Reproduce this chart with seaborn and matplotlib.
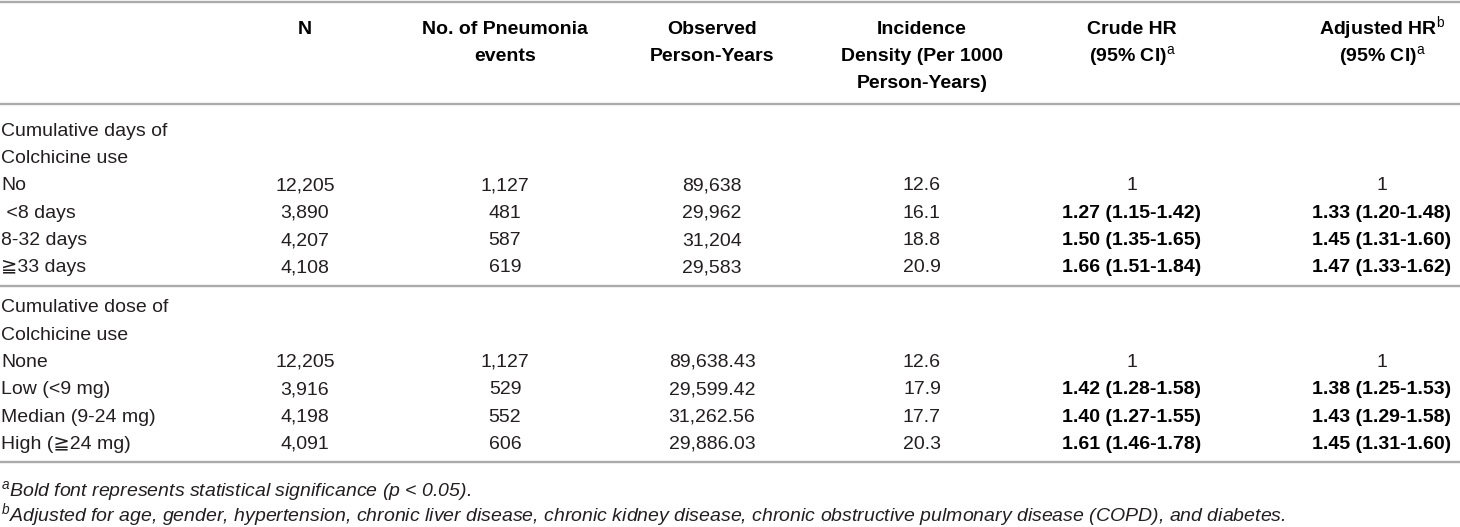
import pandas as pd
import matplotlib.pyplot as plt
import seaborn as sns

# Table values
days_labels = ["No", " <8 days", "8-32 days", "\u226733 days"]
days_n = ["12,205", "3,890", "4,207", "4,108"]
days_events = ["1,127", "481", "587", "619"]
days_py = ["89,638", "29,962", "31,204", "29,583"]
days_inc = ["12.6", "16.1", "18.8", "20.9"]
days_crude = ["1", "1.27 (1.15-1.42)", "1.50 (1.35-1.65)", "1.66 (1.51-1.84)"]
days_adj = ["1", "1.33 (1.20-1.48)", "1.45 (1.31-1.60)", "1.47 (1.33-1.62)"]

dose_labels = ["None", "Low (<9 mg)", "Median (9-24 mg)", "High (\u226724 mg)"]
dose_n = ["12,205", "3,916", "4,198", "4,091"]
dose_events = ["1,127", "529", "552", "606"]
dose_py = ["89,638.43", "29,599.42", "31,262.56", "29,886.03"]
dose_inc = ["12.6", "17.9", "17.7", "20.3"]
dose_crude = ["1", "1.42 (1.28-1.58)", "1.40 (1.27-1.55)", "1.61 (1.46-1.78)"]
dose_adj = ["1", "1.38 (1.25-1.53)", "1.43 (1.29-1.58)", "1.45 (1.31-1.60)"]

group_titles = [["Cumulative days of", "Colchicine use"],
                ["Cumulative dose of", "Colchicine use"]]

headers = [
    ["N"],
    ["No. of Pneumonia", "events"],
    ["Observed", "Person-Years"],
    ["Incidence", "Density (Per 1000", "Person-Years)"],
    ["Crude HR", "(95% CI)$^{\\mathrm{a}}$"],
    ["Adjusted HR$^{\\mathrm{b}}$", "(95% CI)$^{\\mathrm{a}}$"],
]

footnotes = [
    "$^{\\mathit{a}}$Bold font represents statistical significance (p < 0.05).",
    "$^{\\mathit{b}}$Adjusted for age, gender, hypertension, chronic liver disease, "
    "chronic kidney disease, chronic obstructive pulmonary disease (COPD), and diabetes.",
]

cols = ["N", "Events", "PY", "Incidence", "Crude", "Adjusted"]
groups = [
    pd.DataFrame(dict(zip(["Label"] + cols, [days_labels, days_n, days_events, days_py,
                                             days_inc, days_crude, days_adj]))),
    pd.DataFrame(dict(zip(["Label"] + cols, [dose_labels, dose_n, dose_events, dose_py,
                                             dose_inc, dose_crude, dose_adj]))),
]

sns.set_theme(style="white")
plt.rcParams["font.family"] = ["Liberation Sans", "DejaVu Sans"]
plt.rcParams["mathtext.fontset"] = "custom"
plt.rcParams["mathtext.rm"] = "Liberation Sans"
plt.rcParams["mathtext.it"] = "Liberation Sans:italic"
plt.rcParams["mathtext.bf"] = "Liberation Sans:bold"

fig = plt.figure(figsize=(14.6, 5.27), dpi=100)
ax = fig.add_axes([0, 0, 1, 1])
ax.set_xlim(0, 1460)
ax.set_ylim(527, 0)
ax.axis("off")

fs = 14.0
txt_color = "#231f20"
rule_color = "#ababab"
col_x = [305, 505, 712, 922, 1132, 1382]
label_x = 1
row_h = 27.3
base = 6.8  # baseline offset from row centre


def rule(y):
    ax.axhline(y, color=rule_color, linewidth=1.7)


# header
rule(1.5)
for x, lines in zip(col_x, headers):
    for i, line in enumerate(lines):
        ax.text(x, 27 + i * row_h + base, line, ha="center", va="baseline",
                fontsize=fs, fontweight="bold", color="black")
rule(104)

# body
y = 129
for g, (titles, df) in enumerate(zip(group_titles, groups)):
    for t in titles:
        ax.text(label_x, y + base, t, ha="left", va="baseline", fontsize=fs,
                color=txt_color)
        y += row_h
    for _, row in df.iterrows():
        ax.text(label_x, y + base, row["Label"], ha="left", va="baseline",
                fontsize=fs, color=txt_color)
        for x, c in zip(col_x, cols):
            val = row[c]
            bold = c in ("Crude", "Adjusted") and val != "1"
            ax.text(x, y + base, val, ha="center", va="baseline", fontsize=fs,
                    fontweight="bold" if bold else "normal",
                    color="black" if bold else txt_color)
        y += row_h
    y += 40 - row_h
    rule(y - 20)

# footnotes
for i, note in enumerate(footnotes):
    ax.text(label_x, 489 + i * 25 + base, note, ha="left", va="baseline",
            fontsize=fs, style="italic", color=txt_color)

fig.savefig("out.png", dpi=100)
